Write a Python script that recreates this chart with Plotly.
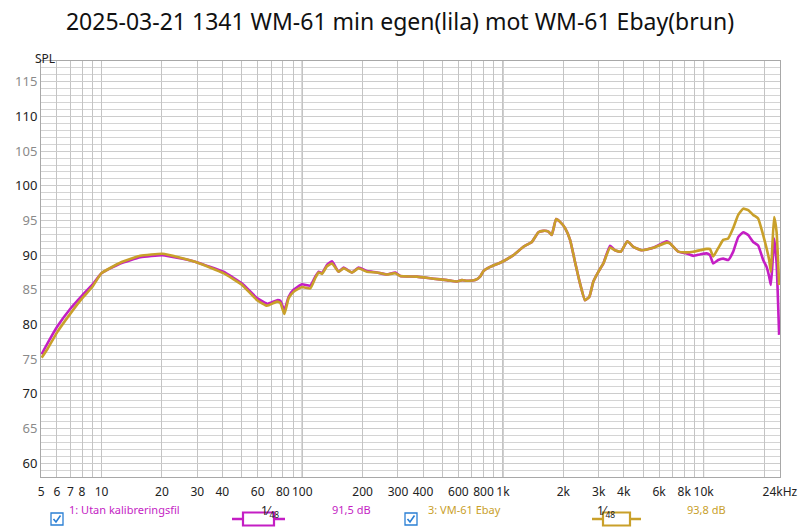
import math
import plotly.graph_objects as go

# ---------------- data ----------------
freq_hz = [5.03, 5.39, 6.02, 7.01, 8.02, 8.99, 10.0, 12.4, 15.6, 20.1, 25.0, 30.0, 40.5, 45.0,
           50.2, 59.6, 66.8, 74.9, 77.8, 81.5, 85.6, 90.6, 99.8, 109.7, 116.2, 120.7, 125.5,
           132.9, 140.7, 151.8, 160.8, 177.0, 190.9, 210.2, 235.8, 264.5, 290.9, 307.9, 373,
           451, 526, 590, 625, 661, 727, 770, 800, 864, 969, 1128, 1265, 1393, 1503, 1590,
           1685, 1751, 1841, 1927, 2041, 2161, 2288, 2423, 2566, 2696, 2823, 2989, 3165, 3418,
           3620, 3865, 4168, 4465, 4914, 5612, 6546, 6798, 7474, 8234, 8879, 9587, 10353,
           10752, 11165, 11823, 12523, 13260, 14043, 14871, 15748, 16675, 17659, 18698, 19802,
           20591, 21212, 21627, 22054, 22460, 23089, 23784]

spl_egen = [75.7, 77.3, 79.7, 82.3, 84.2, 85.7, 87.4, 88.8, 89.7, 90.0, 89.5, 88.95, 87.6, 86.8,
            85.9, 83.8, 83.0, 83.5, 83.4, 82.1, 84.0, 85.0, 85.8, 85.6, 86.9, 87.6, 87.4,
            88.6, 89.1, 87.6, 88.2, 87.5, 88.2, 87.7, 87.5, 87.2, 87.5, 87.0, 86.9,
            86.6, 86.4, 86.2, 86.4, 86.3, 86.4, 86.9, 87.7, 88.3, 88.9, 90.0, 91.2, 91.9, 93.3, 93.5,
            93.4, 92.9, 95.2, 94.8, 93.9, 92.2, 89.0, 85.9, 83.5, 84.0, 86.2, 87.6, 88.8, 91.35,
            90.7, 90.5, 92.0, 91.2, 90.7, 91.05, 92.0, 91.7, 90.5, 90.25, 89.9, 90.1, 90.25,
            90.0, 88.8, 89.3, 89.5, 89.3, 90.5, 92.6, 93.3, 92.9, 91.9, 91.4, 89.3,
            88.3, 86.9, 85.7, 89.0, 92.4, 89.0, 78.5]

spl_ebay = [75.2, 76.5, 78.9, 81.6, 83.8, 85.4, 87.4, 88.9, 89.9, 90.2, 89.6, 88.95, 87.4, 86.6,
            85.7, 83.5, 82.7, 83.3, 83.1, 81.5, 83.8, 84.7, 85.4, 85.2, 86.7, 87.5, 87.3,
            88.4, 88.8, 87.6, 88.1, 87.5, 88.1, 87.6, 87.5, 87.2, 87.4, 87.0, 86.9,
            86.6, 86.4, 86.2, 86.4, 86.3, 86.4, 86.9, 87.7, 88.3, 88.9, 90.0, 91.2, 91.9, 93.3, 93.5,
            93.4, 92.9, 95.2, 94.8, 93.9, 92.2, 89.0, 85.9, 83.5, 84.0, 86.2, 87.6, 88.8, 91.1,
            90.7, 90.5, 92.0, 91.2, 90.7, 91.05, 91.8, 91.7, 90.5, 90.4, 90.5, 90.7, 90.9,
            90.9, 89.8, 91.0, 92.2, 92.4, 93.9, 95.8, 96.7, 96.5, 95.8, 95.3, 92.9,
            91.0, 89.3, 87.6, 91.9, 95.5, 93.4, 85.7]

# labelled x ticks
x_label_vals = [5, 6, 7, 8, 10, 20, 30, 40, 60, 80, 100, 200, 300, 400, 600, 800,
                1000, 2000, 3000, 4000, 6000, 8000, 10000, 24000]
x_label_text = ["5", "6", "7", "8", "10", "20", "30", "40", "60", "80", "100", "200", "300",
                "400", "600", "800", "1k", "2k", "3k", "4k", "6k", "8k", "10k", "24kHz"]
# unlabelled x grid lines
x_grid_only = [9, 50, 70, 90, 500, 700, 900, 5000, 7000, 9000, 20000]
decades = [10, 100, 1000, 10000]
y_label_vals = [60, 65, 70, 75, 80, 85, 90, 95, 100, 105, 110, 115]

legend_names = ["1: Utan kalibreringsfil", "3: VM-61 Ebay"]
legend_levels = ["91,5 dB", "93,8 dB"]

title_text = "2025-03-21 1341 WM-61 min egen(lila) mot WM-61 Ebay(brun)"

# ---------------- styling ----------------
MAGENTA = "#C41EC4"
GOLD = "#C9A02A"
CHECK = "#2a7fd4"
FONT = "Noto Sans"

W, H = 800, 530
L, R, T, B = 41, 20, 61, 53
PW, PH = W - L - R, H - T - B


def px(xp):
    return (xp - L) / PW


def py(yp):
    return (H - B - yp) / PH


x_pairs = sorted([(v, t) for v, t in zip(x_label_vals, x_label_text)] + [(v, "") for v in x_grid_only])
x_tickvals = [p[0] for p in x_pairs]
x_ticktext = [p[1] for p in x_pairs]

y_ticktext = []
for v in y_label_vals:
    c = "#222222" if v % 10 == 0 else "#8a8a8a"
    y_ticktext.append(f"<span style='color:{c}'>{v}</span>")

fig = go.Figure()
fig.add_trace(go.Scatter(x=freq_hz, y=spl_egen, mode="lines", name=legend_names[0],
                         line=dict(color=MAGENTA, width=2.6, shape="spline", smoothing=0.4)))
fig.add_trace(go.Scatter(x=freq_hz, y=spl_ebay, mode="lines", name=legend_names[1],
                         line=dict(color=GOLD, width=2.6, shape="spline", smoothing=0.4)))

fig.update_layout(
    width=W, height=H,
    margin=dict(l=L, r=R, t=T, b=B, autoexpand=False),
    paper_bgcolor="white", plot_bgcolor="white",
    showlegend=False,
    font=dict(family=FONT, size=12, color="#222"),
    title=dict(text=title_text, x=0.5, xanchor="center", y=1 - 22 / H, yanchor="middle",
               font=dict(family=FONT, size=23, color="#111")),
    xaxis=dict(type="log", range=[math.log10(5) - 0.0004, math.log10(24000) + 0.0004],
               tickmode="array", tickvals=x_tickvals, ticktext=x_ticktext,
               showgrid=True, gridcolor="#c4c4c4", gridwidth=1,
               showline=True, linecolor="#a8a8a8", linewidth=1, mirror=True,
               ticks="", ticklabelstandoff=4,
               tickfont=dict(family=FONT, size=12, color="#222"), zeroline=False),
    yaxis=dict(range=[58, 118], tickmode="array", tickvals=y_label_vals, ticktext=y_ticktext,
               showgrid=True, gridcolor="#cccccc", gridwidth=1,
               minor=dict(tickmode="linear", tick0=0, dtick=1, showgrid=True,
                          gridcolor="#d4d4d4", gridwidth=1),
               showline=True, linecolor="#a8a8a8", linewidth=1, mirror=True,
               ticks="", tickfont=dict(family=FONT, size=13), zeroline=False),
)

for d in decades:
    fig.add_shape(type="line", xref="x", yref="paper", x0=d, x1=d, y0=0, y1=1,
                  line=dict(color="#8c8c8c", width=1), layer="between")

fig.add_annotation(text="SPL", xref="paper", yref="paper", x=px(33), y=py(48),
                   showarrow=False, font=dict(family=FONT, size=12, color="#222"))

LY = 519
items = [
    dict(cb=57, name_x=67, box_x0=232, box_x1=285, lvl_x=330, color=MAGENTA, i=0),
    dict(cb=411, name_x=426, box_x0=592, box_x1=641, lvl_x=685, color=GOLD, i=1),
]
for it in items:
    c = it["color"]
    cb = it["cb"]
    fig.add_shape(type="rect", xref="paper", yref="paper",
                  x0=px(cb - 6), x1=px(cb + 6), y0=py(LY + 6), y1=py(LY - 6),
                  line=dict(color=CHECK, width=1.3), fillcolor="white")
    fig.add_shape(type="path", xref="paper", yref="paper",
                  path=(f"M {px(cb - 3.5)} {py(LY)} L {px(cb - 1)} {py(LY + 3)} "
                        f"L {px(cb + 3.5)} {py(LY - 3.5)}"),
                  line=dict(color=CHECK, width=1.6))
    fig.add_annotation(text=legend_names[it["i"]], xref="paper", yref="paper",
                       x=px(it["name_x"]), y=py(LY), xanchor="left", showarrow=False,
                       font=dict(family=FONT, size=11, color=c))
    bx0, bx1 = it["box_x0"], it["box_x1"]
    fig.add_shape(type="line", xref="paper", yref="paper", x0=px(bx0), x1=px(bx0 + 11),
                  y0=py(LY), y1=py(LY), line=dict(color=c, width=2.5))
    fig.add_shape(type="line", xref="paper", yref="paper", x0=px(bx1 - 11), x1=px(bx1),
                  y0=py(LY), y1=py(LY), line=dict(color=c, width=2.5))
    fig.add_shape(type="rect", xref="paper", yref="paper", x0=px(bx0 + 11), x1=px(bx1 - 11),
                  y0=py(LY + 6.5), y1=py(LY - 6.5), line=dict(color=c, width=2.2),
                  fillcolor="white")
    fig.add_annotation(text="1⁄<sub>48</sub>", xref="paper", yref="paper",
                       x=px((bx0 + bx1) / 2), y=py(LY), yshift=-3, showarrow=False,
                       font=dict(family=FONT, size=12, color="#222"))
    fig.add_annotation(text=legend_levels[it["i"]], xref="paper", yref="paper",
                       x=px(it["lvl_x"]), y=py(LY), xanchor="left", showarrow=False,
                       font=dict(family=FONT, size=11, color=c))

fig.write_html("out.html", config={"displayModeBar": False},
               post_script="document.body.style.margin='0';document.body.style.overflow='hidden';")
